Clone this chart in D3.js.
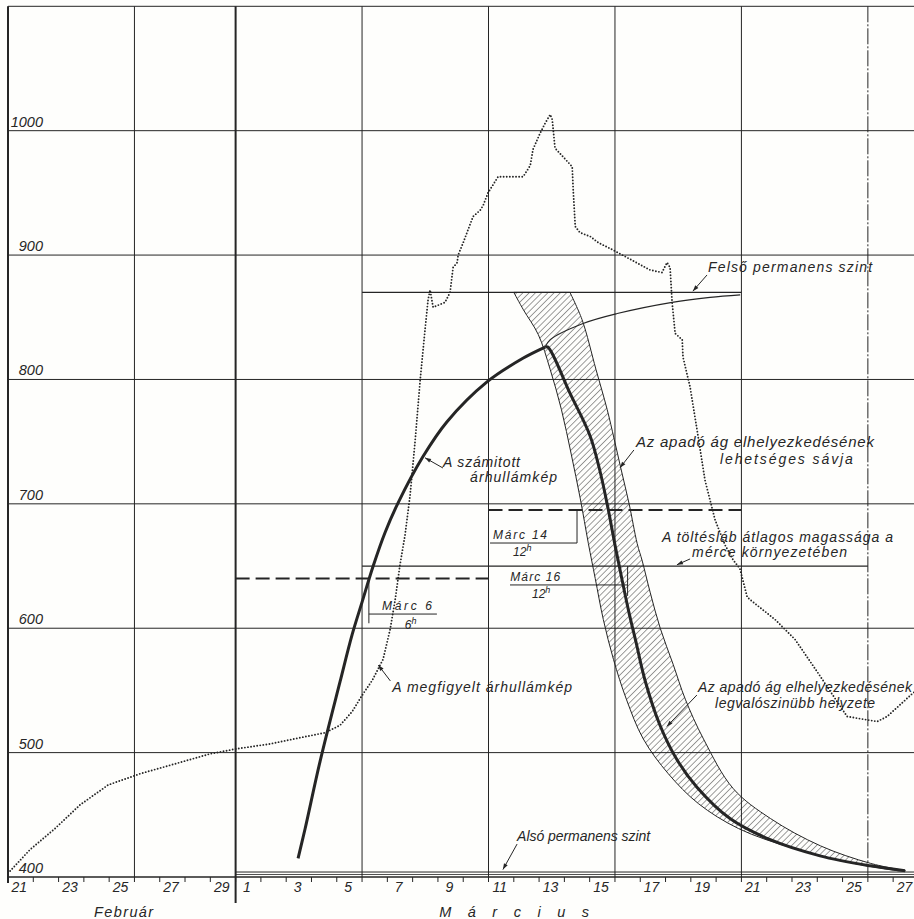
<!DOCTYPE html>
<html>
<head>
<meta charset="utf-8">
<script src="https://cdn.jsdelivr.net/npm/d3@7"></script>
<style>
  body { margin: 0; background: #fff; }
  svg { display: block; }
  text { font-family: "Liberation Sans", Arial, sans-serif; font-style: italic; fill: #262626; }
</style>
</head>
<body>
<div id="root"></div>
<script>
// x values are decimal days of March 1956 (Mar 1 00h = 1, Feb 29 00h = 0, Feb 21 00h = -8)
const yGridValues = [500, 600, 700, 800, 900, 1000];
const yTickLabels = [400, 500, 600, 700, 800, 900, 1000];
const gridDays = [-3, 6, 11, 16, 21, 26];
const febLabels = [21, 23, 25, 27, 29];
const marLabels = [1, 3, 5, 7, 9, 11, 13, 15, 17, 19, 21, 23, 25, 27];

// observed stage hydrograph (dotted)
const observed = [
  [-8.0, 403], [-7.13, 422], [-6.14, 439], [-5.15, 458], [-4.04, 474], [-2.78, 483],
  [-1.39, 491], [-0.01, 499], [1.02, 503], [2.36, 507], [3.55, 512], [4.54, 516],
  [5.13, 522], [5.61, 533], [6.0, 546], [6.4, 558], [6.83, 575], [7.11, 599],
  [7.31, 623], [7.5, 651], [7.7, 675], [7.9, 707], [8.1, 751], [8.3, 800],
  [8.49, 840], [8.61, 864], [8.69, 872], [8.81, 858], [9.28, 862], [9.48, 870],
  [9.6, 890], [9.76, 894], [9.8, 900], [10.0, 910], [10.39, 931], [10.67, 936],
  [10.79, 940], [10.98, 950], [11.38, 963], [12.37, 963], [12.65, 972], [12.76, 985],
  [13.04, 998], [13.24, 1006], [13.44, 1013], [13.52, 1009], [13.63, 986], [14.31, 971],
  [14.35, 952], [14.43, 923], [14.62, 918], [15.02, 915], [15.34, 910], [15.93, 904],
  [17.39, 888], [17.86, 886], [18.06, 894], [18.18, 890], [18.26, 862], [18.38, 837],
  [18.66, 832], [18.69, 818], [18.97, 794], [19.25, 759], [19.56, 719], [19.96, 687],
  [20.35, 667], [20.67, 655], [20.94, 648], [21.23, 625], [21.34, 623], [22.33, 607],
  [23.12, 591], [24.03, 564], [25.18, 529], [26.37, 525], [26.76, 529], [27.79, 548],
  [28.07, 552]
];

// computed hydrograph, rising limb (thick) and its continuation (thin)
const computedRise = [
  [3.47, 415], [3.75, 439], [4.34, 493], [5.13, 557], [5.61, 595], [6.0, 621],
  [6.44, 650], [6.91, 677], [7.43, 701], [8.41, 738], [9.36, 766], [10.94, 798],
  [12.36, 817], [13.24, 826]
];
const computedTail = [
  [13.24, 826], [13.44, 832], [14.74, 845], [16.09, 853], [18.26, 862], [19.76, 866],
  [20.95, 868]
];
// most probable falling limb (thick)
const fallingLimb = [
  [13.24, 826], [13.35, 826], [14.22, 789], [15.01, 755], [15.4, 727], [15.72, 697],
  [16.0, 667], [16.28, 639], [16.55, 613], [16.83, 589], [17.19, 558], [17.78, 522],
  [18.46, 494], [19.25, 472], [20.55, 447], [22.14, 430], [24.11, 417], [26.09, 409],
  [27.47, 405]
];
// possible band of the falling limb: left and right edges, top to bottom
const bandLeft = [
  [12.0, 870], [12.38, 856], [12.97, 836], [13.44, 808], [13.88, 776], [14.27, 740],
  [14.63, 704], [14.95, 668], [15.22, 640], [15.54, 607], [15.94, 575], [16.45, 543],
  [17.12, 511], [18.11, 483], [19.3, 459], [20.88, 439], [23.06, 423], [25.43, 411],
  [27.2, 405]
];
const bandRight = [
  [14.22, 870], [14.7, 848], [15.25, 808], [15.69, 776], [15.97, 752], [16.24, 728],
  [16.56, 700], [16.88, 668], [17.08, 654], [17.39, 629], [17.79, 600], [18.3, 571],
  [18.78, 543], [19.5, 511], [20.68, 471], [22.15, 447], [24.13, 425], [26.1, 411],
  [27.49, 405]
];

const upperLevel = { value: 870, start: 6, end: 21 };
const lowerLevel = { value: 404, start: 1, end: 28 };
const embankment = { value: 650, start: 6, end: 26 };
const dashedLevels = [
  { value: 640, start: 1, end: 11 },
  { value: 695, start: 11, end: 21 }
];

const W = 914, H = 919;
const DAY = 864e5;
const day = md => new Date(Date.UTC(1956, 2, 1) + (md - 1) * DAY);

const x = d3.scaleUtc().domain([day(-8), day(28)]).range([8, 8 + 36 * 25.29]);
const y = d3.scaleLinear().domain([400, 1100]).range([877, 6.3]);
const X = md => x(day(md));

const ink = "#252525";

const svg = d3.select("#root").append("svg")
  .attr("width", W).attr("height", H)
  .style("background", "#fefefc");

const defs = svg.append("defs");
defs.append("clipPath").attr("id", "plot")
  .append("rect").attr("x", X(-8)).attr("y", y(1100)).attr("width", W - X(-8)).attr("height", y(400) - y(1100));

const hatch = defs.append("pattern").attr("id", "hatch")
  .attr("patternUnits", "userSpaceOnUse").attr("width", 4.4).attr("height", 4.4)
  .attr("patternTransform", "rotate(45)");
hatch.append("line").attr("x1", 0).attr("y1", 0).attr("x2", 0).attr("y2", 4.4)
  .attr("stroke", ink).attr("stroke-width", 0.9);

defs.append("marker").attr("id", "arrow")
  .attr("viewBox", "0 0 10 10").attr("refX", 10).attr("refY", 5)
  .attr("markerWidth", 9).attr("markerHeight", 6).attr("orient", "auto")
  .attr("markerUnits", "userSpaceOnUse")
  .append("path").attr("d", "M0,1.5 L10,5 L0,8.5 Z").attr("fill", ink);

// grid
const grid = svg.append("g").attr("stroke", ink).attr("fill", "none");
grid.selectAll(".hgrid").data(yGridValues.concat([1100])).join("line")
  .attr("x1", X(-8)).attr("x2", W)
  .attr("y1", d => y(d)).attr("y2", d => y(d))
  .attr("stroke-width", 1);
grid.selectAll(".vgrid").data(gridDays).join("line")
  .attr("x1", d => X(d)).attr("x2", d => X(d))
  .attr("y1", y(1100)).attr("y2", y(400))
  .attr("stroke-width", 1)
  .attr("stroke-dasharray", d => d === 26 ? "16,2,2,2" : null);
// left border and the month divider
grid.append("line").attr("x1", X(-8)).attr("x2", X(-8)).attr("y1", y(1100)).attr("y2", y(400) + 6).attr("stroke-width", 2);
grid.append("line").attr("x1", X(1)).attr("x2", X(1)).attr("y1", y(1100)).attr("y2", y(400) + 26).attr("stroke-width", 2);
// bottom axis
grid.append("line").attr("x1", X(-8)).attr("x2", W).attr("y1", y(400)).attr("y2", y(400)).attr("stroke-width", 1.3);
grid.selectAll(".tick").data(d3.range(-7, 29)).join("line")
  .attr("x1", d => X(d)).attr("x2", d => X(d))
  .attr("y1", y(400)).attr("y2", y(400) + 5).attr("stroke-width", 1);

// y labels
svg.append("g").selectAll("text").data(yTickLabels).join("text")
  .attr("x", X(-8) + 35).attr("y", d => y(d) - 4)
  .attr("text-anchor", "end").attr("font-size", 14.5)
  .text(d => d);

// x labels
const xl = svg.append("g").attr("font-size", 14).attr("text-anchor", "middle");
xl.selectAll(".feb").data(febLabels).join("text")
  .attr("x", d => X(d - 29 + 0.45)).attr("y", y(400) + 15).text(d => d);
xl.selectAll(".mar").data(marLabels).join("text")
  .attr("x", d => X(d + 0.45)).attr("y", y(400) + 15).text(d => d);
svg.append("text").attr("x", X(-4.6)).attr("y", 917).attr("font-size", 14.5)
  .attr("letter-spacing", 1.4).text("Február");
svg.append("text").attr("x", X(9.05)).attr("y", 917).attr("font-size", 14.5)
  .attr("letter-spacing", 16.5).text("Március");

const plot = svg.append("g").attr("clip-path", "url(#plot)");
const line = d3.line().x(d => X(d[0])).y(d => y(d[1]));
const smooth = d3.line().x(d => X(d[0])).y(d => y(d[1])).curve(d3.curveCatmullRom.alpha(0.5));

// level lines
const hline = (g, lv) => g.append("line")
  .attr("x1", X(lv.start)).attr("x2", X(lv.end))
  .attr("y1", y(lv.value)).attr("y2", y(lv.value))
  .attr("stroke", ink).attr("fill", "none");
hline(plot, upperLevel).attr("stroke-width", 1.4);
hline(plot, embankment).attr("stroke-width", 1.3);
hline(plot, lowerLevel).attr("stroke-width", 1);
hline(plot, { value: lowerLevel.value - 2, start: lowerLevel.start, end: lowerLevel.end }).attr("stroke-width", 0.8);
dashedLevels.forEach(lv => hline(plot, lv).attr("stroke-width", 2).attr("stroke-dasharray", "14,6"));

// possible band (hatched)
const leftPath = smooth(bandLeft);
const rightPath = smooth(bandRight.slice().reverse()).replace(/^M/, "L");
plot.append("path").attr("d", leftPath + rightPath + "Z")
  .attr("fill", "url(#hatch)").attr("stroke", ink).attr("stroke-width", 1);

// computed hydrograph
plot.append("path").attr("d", smooth(computedTail))
  .attr("fill", "none").attr("stroke", ink).attr("stroke-width", 1.1);
plot.append("path").attr("d", smooth(computedRise))
  .attr("fill", "none").attr("stroke", ink).attr("stroke-width", 3);
plot.append("path").attr("d", smooth(fallingLimb))
  .attr("fill", "none").attr("stroke", ink).attr("stroke-width", 3);

// observed hydrograph
plot.append("path").attr("d", line(observed))
  .attr("fill", "none").attr("stroke", ink).attr("stroke-width", 1.9)
  .attr("stroke-linecap", "round").attr("stroke-dasharray", "0,3.1");

// date markers
const ann = svg.append("g").attr("stroke", ink).attr("fill", "none").attr("stroke-width", 1);
const seg = (a, b) => ann.append("line")
  .attr("x1", X(a[0])).attr("y1", y(a[1])).attr("x2", X(b[0])).attr("y2", y(b[1]));
seg([6.27, 640], [6.27, 604]);
seg([6.27, 611.4], [8.96, 611.4]);
seg([14.5, 695], [14.5, 668.5]);
seg([11.06, 668.5], [14.5, 668.5]);
seg([16.5, 650], [16.5, 626]);
seg([11.85, 634.8], [16.5, 634.8]);

// arrows
const arrow = (a, b) => seg(a, b).attr("marker-end", "url(#arrow)");
arrow([19.64, 884], [19.08, 871]);
arrow([9.2, 728.8], [8.49, 737]);
arrow([16.75, 743.3], [16.2, 729]);
arrow([18.97, 655.7], [18.45, 651]);
arrow([7.12, 557.6], [6.64, 570.4]);
arrow([19.24, 546.3], [18.05, 521]);
arrow([12.13, 426.5], [11.57, 406]);

// labels
const label = (txt, md, v, len, size = 14) => {
  const t = svg.append("text").attr("x", X(md)).attr("y", y(v)).attr("font-size", size).text(txt);
  if (len) t.attr("textLength", len).attr("lengthAdjust", "spacing");
  return t;
};
label("Felső permanens szint", 19.68, 886.4, 164);
label("A számitott", 9.2, 729.6, 77);
label("árhullámkép", 10.27, 717.6, 87);
label("Az apadó ág elhelyezkedésének", 16.83, 745.7, 238, 15);
label("lehetséges sávja", 20.15, 732, 133);
label("A töltésláb átlagos magassága a", 17.86, 669.3, 231);
label("mérce környezetében", 19.05, 657.3, 155);
label("Márc 14", 11.18, 671.6, 54, 12);
label("Márc 16", 11.86, 637.9, 50, 12);
label("Márc 6", 6.79, 614.6, 50, 12);
label("A megfigyelt árhullámkép", 7.19, 548.7, 180);
label("Az apadó ág elhelyezkedésének", 19.28, 548.7, 214);
label("legvalószinübb helyzete", 19.96, 535.9, 160);
label("Alsó permanens szint", 12.13, 428.9, 133);

const hour = (md, v, txt) => {
  const t = svg.append("text").attr("x", X(md)).attr("y", y(v)).attr("font-size", 12).text(txt);
  t.append("tspan").attr("font-size", 9).attr("dy", -4.5).text("h");
};
hour(11.97, 658.4, "12");
hour(12.72, 624.6, "12");
hour(7.69, 599.7, "6");
</script>
</body>
</html>
